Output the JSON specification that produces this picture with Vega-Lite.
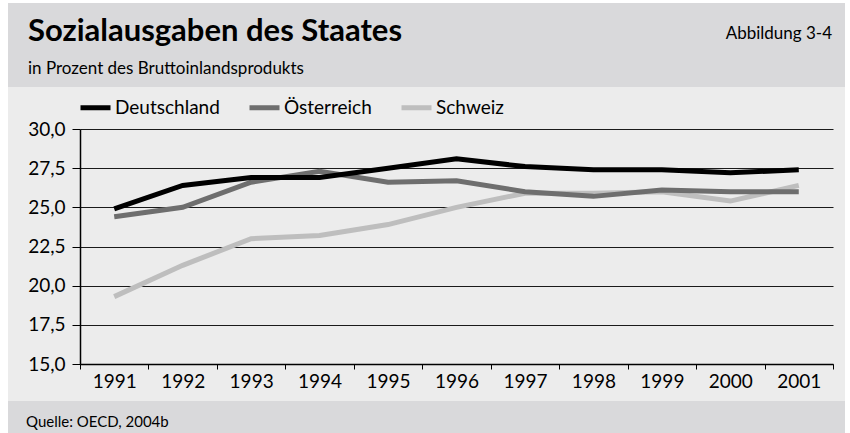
{
  "$schema": "https://vega.github.io/schema/vega-lite/v6.json",
  "background": "#ffffff",
  "padding": {"left": 8, "top": 3, "right": 5, "bottom": 0},
  "columns": 1,
  "bounds": "full",
  "spacing": 0,
  "resolve": {"legend": {"color": "independent"}, "scale": {"color": "independent"}},
  "config": {
    "view": {"stroke": null},
    "font": "Lato",
    "locale": {"number": {"decimal": ",", "thousands": ".", "grouping": [3], "currency": ["", " €"]}}
  },
  "concat": [
    {
      "width": 837,
      "height": 84,
      "view": {"fill": "#d9d9db", "stroke": null},
      "title": {
        "text": "Sozialausgaben des Staates",
        "subtitle": "in Prozent des Bruttoinlandsprodukts",
        "anchor": "start",
        "frame": "group",
        "offset": -75,
        "dx": 20,
        "font": "Lato",
        "fontSize": 31,
        "fontWeight": "bold",
        "color": "#000000",
        "subtitleFont": "Lato",
        "subtitleFontSize": 17,
        "subtitleColor": "#000000",
        "subtitlePadding": 13
      },
      "data": {"values": [{"label": "Abbildung 3-4"}]},
      "mark": {"type": "text", "align": "right", "baseline": "alphabetic", "font": "Lato", "fontSize": 17, "color": "#000000", "dx": -13, "dy": -6},
      "encoding": {
        "text": {"field": "label"},
        "x": {"value": "width"}
      }
    },
    {
      "width": 837,
      "height": 314,
      "view": {"fill": "#ececec", "stroke": null},
      "data": {"values": [
        {"year": "1991", "country": "Schweiz", "value": 19.3},
        {"year": "1992", "country": "Schweiz", "value": 21.3},
        {"year": "1993", "country": "Schweiz", "value": 23.0},
        {"year": "1994", "country": "Schweiz", "value": 23.2},
        {"year": "1995", "country": "Schweiz", "value": 23.9},
        {"year": "1996", "country": "Schweiz", "value": 25.0},
        {"year": "1997", "country": "Schweiz", "value": 25.9},
        {"year": "1998", "country": "Schweiz", "value": 25.9},
        {"year": "1999", "country": "Schweiz", "value": 26.0},
        {"year": "2000", "country": "Schweiz", "value": 25.4},
        {"year": "2001", "country": "Schweiz", "value": 26.4},
        {"year": "1991", "country": "Österreich", "value": 24.4},
        {"year": "1992", "country": "Österreich", "value": 25.0},
        {"year": "1993", "country": "Österreich", "value": 26.6},
        {"year": "1994", "country": "Österreich", "value": 27.3},
        {"year": "1995", "country": "Österreich", "value": 26.6},
        {"year": "1996", "country": "Österreich", "value": 26.7},
        {"year": "1997", "country": "Österreich", "value": 26.0},
        {"year": "1998", "country": "Österreich", "value": 25.7},
        {"year": "1999", "country": "Österreich", "value": 26.1},
        {"year": "2000", "country": "Österreich", "value": 26.0},
        {"year": "2001", "country": "Österreich", "value": 26.0},
        {"year": "1991", "country": "Deutschland", "value": 24.9},
        {"year": "1992", "country": "Deutschland", "value": 26.4},
        {"year": "1993", "country": "Deutschland", "value": 26.9},
        {"year": "1994", "country": "Deutschland", "value": 26.9},
        {"year": "1995", "country": "Deutschland", "value": 27.5},
        {"year": "1996", "country": "Deutschland", "value": 28.1},
        {"year": "1997", "country": "Deutschland", "value": 27.6},
        {"year": "1998", "country": "Deutschland", "value": 27.4},
        {"year": "1999", "country": "Deutschland", "value": 27.4},
        {"year": "2000", "country": "Deutschland", "value": 27.2},
        {"year": "2001", "country": "Deutschland", "value": 27.4}
      ]},
      "mark": {"type": "line", "strokeWidth": 5, "strokeCap": "butt", "strokeJoin": "miter"},
      "encoding": {
        "x": {
          "field": "year", "type": "ordinal",
          "scale": {"type": "band", "paddingInner": 0, "paddingOuter": 0, "range": [72, 825]},
          "axis": {
            "title": null, "labelAngle": 0, "tickBand": "extent", "offset": -37,
            "domainColor": "#000000", "domainWidth": 1.5,
            "tickColor": "#000000", "tickSize": 5, "tickWidth": 1,
            "labelFont": "Lato", "labelFontSize": 19, "labelColor": "#000000", "labelPadding": 3
          }
        },
        "y": {
          "field": "value", "type": "quantitative",
          "scale": {"domain": [15, 30], "nice": false, "zero": false, "range": [277, 42]},
          "axis": {
            "values": [15, 17.5, 20, 22.5, 25, 27.5, 30],
            "format": ".1f", "offset": -72,
            "grid": true, "gridColor": "#1a1a1a", "gridWidth": 1,
            "domainColor": "#000000", "domainWidth": 1.5,
            "tickColor": "#000000", "tickSize": 8, "tickWidth": 1,
            "labelFont": "Lato", "labelFontSize": 19, "labelColor": "#000000", "labelPadding": 7,
            "title": null
          }
        },
        "color": {
          "field": "country", "type": "nominal",
          "scale": {"domain": ["Deutschland", "Österreich", "Schweiz"], "range": ["#000000", "#6e6e6e", "#bebebe"]},
          "legend": {
            "orient": "none", "legendX": 70, "legendY": 3,
            "direction": "horizontal", "title": null,
            "symbolType": "stroke", "symbolSize": 900, "symbolStrokeWidth": 5,
            "labelFont": "Lato", "labelFontSize": 19, "labelColor": "#000000",
            "columnPadding": 19, "labelOffset": 2, "padding": 0
          }
        }
      }
    },
    {
      "width": 837,
      "height": 32,
      "view": {"fill": "#d9d9db", "stroke": null},
      "title": {
        "text": "Quelle: OECD, 2004b",
        "anchor": "start",
        "frame": "group",
        "offset": -29,
        "dx": 18,
        "font": "Lato",
        "fontSize": 15,
        "fontWeight": "normal",
        "color": "#000000"
      },
      "data": {"values": []},
      "mark": {"type": "point"},
      "encoding": {}
    }
  ]
}
